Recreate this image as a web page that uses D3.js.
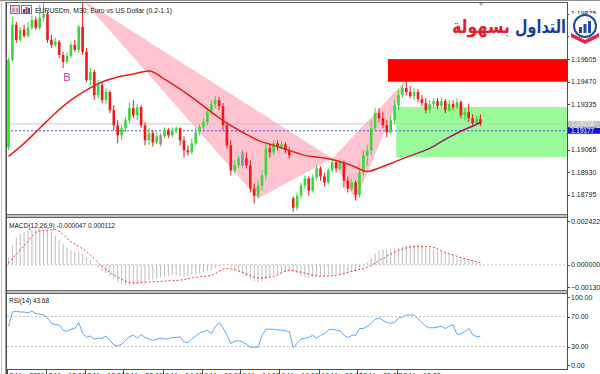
<!DOCTYPE html>
<html lang="en">
<head>
<meta charset="UTF-8">
<title>EURUSDm M30</title>
<script src="https://d3js.org/d3.v7.min.js"></script>
<style>
  body { margin: 0; background: #fff; }
  svg { display: block; font-family: "Liberation Sans", "DejaVu Sans", sans-serif; }
  .lbl { font-size: 7px; fill: #222; }
</style>
</head>
<body>
<svg width="600" height="374"></svg>
<script>
// ---- candles (M30, oldest first) ----
var opens = [1.19078,1.19600,1.19810,1.19720,1.19780,1.19744,1.19792,1.19840,1.19792,1.19852,
  1.19876,1.19720,1.19690,1.19708,1.19630,1.19588,1.19624,1.19690,1.19660,1.19798,
  1.19648,1.19480,1.19528,1.19390,1.19450,1.19360,1.19408,1.19300,1.19210,1.19150,
  1.19192,1.19240,1.19312,1.19270,1.19318,1.19210,1.19120,1.19162,1.19108,1.19144,
  1.19144,1.19180,1.19150,1.19180,1.19192,1.19120,1.19060,1.19048,1.19102,1.19168,
  1.19198,1.19228,1.19288,1.19336,1.19360,1.19324,1.19210,1.19090,1.18940,1.18970,
  1.19012,1.19012,1.18970,1.18832,1.18790,1.18850,1.18910,1.19072,1.19048,1.19102,
  1.19078,1.19096,1.19060,1.18772,1.18718,1.18790,1.18850,1.18892,1.18820,1.18898,
  1.18952,1.18904,1.18868,1.18940,1.18988,1.18952,1.18988,1.18880,1.18832,1.18868,
  1.18796,1.18928,1.19030,1.19060,1.19192,1.19282,1.19252,1.19210,1.19168,1.19240,
  1.19330,1.19390,1.19432,1.19408,1.19384,1.19408,1.19366,1.19342,1.19300,1.19336,
  1.19354,1.19324,1.19354,1.19300,1.19336,1.19318,1.19348,1.19270,1.19288,1.19252,
  1.19222,1.19246];
var highs = [1.19612,1.19858,1.19828,1.19798,1.19810,1.19828,1.19870,1.19858,1.19930,1.19942,
  1.19888,1.19750,1.19732,1.19720,1.19648,1.19642,1.19708,1.19720,1.19810,1.19960,
  1.19672,1.19552,1.19540,1.19480,1.19462,1.19432,1.19420,1.19330,1.19240,1.19210,
  1.19258,1.19348,1.19360,1.19336,1.19330,1.19228,1.19192,1.19180,1.19168,1.19162,
  1.19198,1.19192,1.19198,1.19204,1.19198,1.19144,1.19090,1.19132,1.19192,1.19216,
  1.19252,1.19312,1.19360,1.19384,1.19378,1.19342,1.19228,1.19120,1.19000,1.19030,
  1.19060,1.19048,1.19000,1.18862,1.18880,1.18940,1.19102,1.19102,1.19120,1.19120,
  1.19114,1.19108,1.19078,1.18784,1.18808,1.18868,1.18910,1.18904,1.18916,1.18970,
  1.18964,1.18928,1.18952,1.19012,1.19000,1.19006,1.19000,1.18904,1.18892,1.18880,
  1.18952,1.19060,1.19090,1.19240,1.19312,1.19312,1.19288,1.19240,1.19270,1.19360,
  1.19420,1.19450,1.19480,1.19444,1.19432,1.19426,1.19390,1.19372,1.19360,1.19372,
  1.19372,1.19378,1.19366,1.19360,1.19360,1.19372,1.19360,1.19312,1.19336,1.19276,
  1.19264,1.19276];
var lows = [1.19060,1.19588,1.19702,1.19708,1.19732,1.19732,1.19780,1.19780,1.19780,1.19828,
  1.19702,1.19672,1.19678,1.19612,1.19552,1.19576,1.19612,1.19648,1.19642,1.19630,
  1.19468,1.19450,1.19360,1.19372,1.19342,1.19336,1.19282,1.19180,1.19102,1.19120,
  1.19168,1.19222,1.19252,1.19240,1.19192,1.19090,1.19090,1.19084,1.19096,1.19084,
  1.19132,1.19132,1.19138,1.19162,1.19090,1.19018,1.19030,1.19036,1.19090,1.19150,
  1.19180,1.19210,1.19270,1.19312,1.19300,1.19180,1.19072,1.18910,1.18922,1.18952,
  1.18958,1.18952,1.18808,1.18742,1.18772,1.18820,1.18880,1.19018,1.19030,1.19060,
  1.19066,1.19042,1.19012,1.18694,1.18700,1.18772,1.18832,1.18790,1.18808,1.18880,
  1.18880,1.18844,1.18856,1.18928,1.18928,1.18940,1.18838,1.18808,1.18820,1.18760,
  1.18778,1.18910,1.18970,1.19030,1.19180,1.19228,1.19192,1.19138,1.19156,1.19216,
  1.19300,1.19372,1.19390,1.19372,1.19360,1.19348,1.19324,1.19282,1.19282,1.19318,
  1.19306,1.19312,1.19282,1.19288,1.19300,1.19306,1.19252,1.19240,1.19228,1.19204,
  1.19210,1.19204];
var closes = [1.19600,1.19810,1.19720,1.19780,1.19744,1.19792,1.19840,1.19792,1.19852,1.19876,
  1.19720,1.19690,1.19708,1.19630,1.19588,1.19624,1.19690,1.19660,1.19798,1.19648,
  1.19480,1.19528,1.19390,1.19450,1.19360,1.19408,1.19300,1.19210,1.19150,1.19192,
  1.19240,1.19312,1.19270,1.19318,1.19210,1.19120,1.19162,1.19108,1.19144,1.19144,
  1.19180,1.19150,1.19180,1.19192,1.19120,1.19060,1.19048,1.19102,1.19168,1.19198,
  1.19228,1.19288,1.19336,1.19360,1.19324,1.19210,1.19090,1.18940,1.18970,1.19012,
  1.19012,1.18970,1.18832,1.18790,1.18850,1.18910,1.19072,1.19048,1.19102,1.19078,
  1.19096,1.19060,1.19030,1.18718,1.18790,1.18850,1.18892,1.18820,1.18898,1.18952,
  1.18904,1.18868,1.18940,1.18988,1.18952,1.18988,1.18880,1.18832,1.18868,1.18796,
  1.18928,1.19030,1.19060,1.19192,1.19282,1.19252,1.19210,1.19168,1.19240,1.19330,
  1.19390,1.19432,1.19408,1.19384,1.19408,1.19366,1.19342,1.19300,1.19336,1.19354,
  1.19324,1.19354,1.19300,1.19336,1.19318,1.19348,1.19270,1.19288,1.19252,1.19222,
  1.19246,1.19218];

// moving average, read at every 4th bar
var maBars = [0,4,8,12,16,20,24,28,32,36,40,44,48,52,56,60,64,68,72,76,80,84,88,92,96,100,104,108,112,116,120,121];
var maValues = [1.19024,1.19102,1.19192,1.19282,1.19360,1.19420,1.19468,1.19498,1.19516,1.19534,
  1.19486,1.19426,1.19360,1.19288,1.19222,1.19168,1.19120,1.19090,1.19060,1.19030,
  1.19018,1.19000,1.18970,1.18934,1.18964,1.19000,1.19036,1.19072,1.19126,1.19174,
  1.19216,1.19228];

// MACD(12,26,9)
var macdMain = [0.00038,0.00099,0.00140,0.00161,0.00171,0.00179,0.00181,0.00184,0.00184,0.00181,
  0.00179,0.00171,0.00150,0.00130,0.00110,0.00089,0.00074,0.00069,0.00069,0.00059,
  0.00038,0.00023,0.00003,-0.00018,-0.00033,-0.00043,-0.00059,-0.00074,-0.00089,-0.00099,
  -0.00105,-0.00105,-0.00102,-0.00099,-0.00094,-0.00089,-0.00079,-0.00074,-0.00069,-0.00064,
  -0.00059,-0.00059,-0.00054,-0.00054,-0.00059,-0.00064,-0.00059,-0.00054,-0.00048,-0.00043,
  -0.00038,-0.00033,-0.00028,-0.00018,-0.00008,0.00003,0.00003,-0.00013,-0.00028,-0.00038,
  -0.00048,-0.00059,-0.00074,-0.00084,-0.00089,-0.00084,-0.00074,-0.00064,-0.00054,-0.00048,
  -0.00043,-0.00038,-0.00033,-0.00038,-0.00048,-0.00059,-0.00064,-0.00064,-0.00064,-0.00059,
  -0.00059,-0.00059,-0.00054,-0.00048,-0.00048,-0.00048,-0.00048,-0.00043,-0.00038,-0.00033,
  -0.00023,-0.00008,0.00013,0.00038,0.00059,0.00074,0.00079,0.00079,0.00079,0.00084,
  0.00089,0.00094,0.00099,0.00105,0.00105,0.00105,0.00099,0.00089,0.00084,0.00079,
  0.00074,0.00069,0.00064,0.00059,0.00048,0.00043,0.00038,0.00033,0.00028,0.00023,
  0.00013,-0.000047];
var signalBars = [0,4,8,12,16,20,24,28,32,36,40,44,48,52,56,60,64,68,72,76,80,84,88,92,96,100,104,108,112,116,121];
var signalValues = [0.00008,0.00099,0.00176,0.00181,0.00120,0.00069,-0.00008,-0.00064,-0.00094,-0.00089,
  -0.00084,-0.00079,-0.00064,-0.00054,-0.00018,-0.00038,-0.00069,-0.00059,-0.00028,-0.00043,
  -0.00059,-0.00054,-0.00033,-0.00013,0.00033,0.00074,0.00094,0.00094,0.00064,0.00038,
  0.000112];

// RSI(14)
var rsiValues = [57,76,77,76,76,75,77,74,73,72,
  68,61,59,59,52,50,53,54,62,48,
  42,44,40,41,41,44,38,32,31,33,
  38,43,45,41,46,42,40,38,40,41,
  40,40,42,42,43,36,35,40,44,48,
  50,52,47,56,62,55,45,34,37,38,
  36,33,29,29,29,45,53,53,53,52,
  52,51,50,29,34,40,41,42,45,41,
  45,47,52,53,52,51,45,42,45,45,
  54,54,57,61,66,68,65,62,61,62,
  68,69,72,72,72,67,62,57,55,55,
  56,57,54,57,59,46,47,50,54,46,
  43,43.68];

// harmonic pattern X A B C D
var patternBars = [19, 64, 83, 89, 102];
var patternPrices = [1.19960, 1.18772, 1.19012, 1.18760, 1.19480];

// zones (start bar, low, high)
var zoneStarts = [97.3, 99.4];
var zoneLows = [1.19470, 1.19020];
var zoneHighs = [1.19605, 1.19319];

var bidPrice = 1.19218, markPrice = 1.19177;

// axis ticks
var priceTicks = [1.18795, 1.18930, 1.19065, 1.19200, 1.19335, 1.19470, 1.19605, 1.19740, 1.19875];
var macdTicks = [-0.0013, 0, 0.002422];
var rsiTicks = [0, 30, 70, 100];
var rsiLevels = [30, 70];
var timeTickBars = [0,10,20,30,40,50,60,70,80,90,100];
var timeLabels = ["8 Mar 2021","8 Mar 13:00","8 Mar 18:00","8 Mar 23:00","9 Mar 04:00","9 Mar 09:00",
  "9 Mar 14:00","9 Mar 19:00","10 Mar 00:00","10 Mar 05:00","10 Mar 10:00"];

// ---- layout ----
var svg = d3.select("svg"),
    left = 7, right = 567,
    mainTop = 3, mainBottom = 214,
    macdTop = 218, macdBottom = 290,
    rsiTop = 294, rsiBottom = 369;

var x = d3.scaleLinear().domain([0, closes.length - 1]).range([8.5, 480.4]);
var yMain = d3.scaleLinear().domain([1.18680, 1.19940]).range([mainBottom, mainTop]);
var yMacd = d3.scaleLinear().domain([-0.0013, 0.002422]).range([macdBottom, macdTop]);
var yRsi = d3.scaleLinear().domain([0, 100]).range([rsiBottom, rsiTop]);

var defs = svg.append("defs");
[["clipMain", mainTop, mainBottom], ["clipMacd", macdTop, macdBottom], ["clipRsi", rsiTop, rsiBottom]].forEach(function(c) {
    defs.append("clipPath").attr("id", c[0]).append("rect")
        .attr("x", left).attr("y", c[1]).attr("width", right - left).attr("height", c[2] - c[1]);
});

svg.append("rect").attr("width", 600).attr("height", 374).attr("fill", "#fff");

// ---- main pane ----
var g = svg.append("g").attr("clip-path", "url(#clipMain)");

var pts = patternBars.map(function(b, i) { return [x(b), yMain(patternPrices[i])]; });
[[0,1,2],[2,3,4]].forEach(function(t) {
    g.append("path")
        .attr("d", "M" + t.map(function(k) { return pts[k].join(","); }).join("L") + "Z")
        .attr("fill", "#ffc4cf");
});

var zoneColors = ["#ff0000", "#98fb98"];
zoneStarts.forEach(function(s, i) {
    g.append("rect")
        .attr("x", x(s)).attr("y", yMain(zoneHighs[i]))
        .attr("width", right - x(s)).attr("height", yMain(zoneLows[i]) - yMain(zoneHighs[i]))
        .attr("fill", zoneColors[i]);
});

g.append("line").attr("x1", left).attr("x2", right)
    .attr("y1", yMain(bidPrice)).attr("y2", yMain(bidPrice))
    .attr("stroke", "#c8c8c8");
g.append("line").attr("x1", left).attr("x2", right)
    .attr("y1", yMain(markPrice)).attr("y2", yMain(markPrice))
    .attr("stroke", "#4a4ae8").attr("stroke-dasharray", "2,2");

closes.forEach(function(c, i) {
    var o = opens[i];
    var col = c > o ? "#38d838" : (c < o ? "#f01818" : "#909090");
    var cx = x(i);
    g.append("line").attr("x1", cx).attr("x2", cx)
        .attr("y1", yMain(highs[i])).attr("y2", yMain(lows[i]))
        .attr("stroke", col).attr("stroke-width", 1);
    var top = c === o ? yMain(highs[i]) + 2 : yMain(Math.max(o, c));
    var bot = c === o ? yMain(lows[i]) - 2 : yMain(Math.min(o, c));
    g.append("rect").attr("x", cx - 1.3).attr("width", 2.6)
        .attr("y", top).attr("height", Math.max(1, bot - top))
        .attr("fill", col);
});

var maLine = d3.line().curve(d3.curveMonotoneX)
    .x(function(d) { return x(d[0]); }).y(function(d) { return yMain(d[1]); });
var maPts = maBars.map(function(b, i) { return [b, maValues[i]]; });
g.append("path").datum(maPts.filter(function(d) { return d[0] <= 104; }))
    .attr("d", maLine).attr("fill", "none").attr("stroke", "#ec1c1c").attr("stroke-width", 1.5);
g.append("path").datum(maPts.filter(function(d) { return d[0] >= 104; }))
    .attr("d", maLine).attr("fill", "none").attr("stroke", "#a3186f").attr("stroke-width", 1.5);

g.append("text").attr("x", x(15)).attr("y", yMain(1.19500) + 4)
    .attr("text-anchor", "middle").attr("font-size", 11).attr("fill", "#c03ca8").text("B");

// chart shift marker
svg.append("path").attr("d", "M478,2L484,2L481,6Z").attr("fill", "#a8a8a8");

// title + icons
svg.append("rect").attr("x", 10.5).attr("y", 5.5).attr("width", 9).attr("height", 8)
    .attr("fill", "#cfdcf4").attr("stroke", "#5a78b8");
svg.append("rect").attr("x", 12).attr("y", 8).attr("width", 3).attr("height", 4).attr("fill", "#f08aa0");
svg.append("rect").attr("x", 16).attr("y", 8).attr("width", 2.5).attr("height", 4).attr("fill", "#f08aa0");
svg.append("rect").attr("x", 21.5).attr("y", 5.5).attr("width", 10).attr("height", 8)
    .attr("fill", "#fff").attr("stroke", "#5a78b8");
[[23, "#2a4ec8", 4], [25.5, "#d83030", 6], [28, "#2a4ec8", 5]].forEach(function(b) {
    svg.append("rect").attr("x", b[0]).attr("y", 13 - b[2]).attr("width", 2).attr("height", b[2]).attr("fill", b[1]);
});
svg.append("text").attr("class", "lbl").attr("x", 35).attr("y", 13)
    .attr("textLength", 137).attr("lengthAdjust", "spacingAndGlyphs")
    .text("EURUSDm, M30:  Euro vs US Dollar (0.2-1.1)");

// ---- MACD pane ----
var gm = svg.append("g").attr("clip-path", "url(#clipMacd)");
gm.append("line").attr("x1", left).attr("x2", right)
    .attr("y1", yMacd(0)).attr("y2", yMacd(0))
    .attr("stroke", "#c4c4c4").attr("stroke-dasharray", "2,2");
macdMain.forEach(function(v, i) {
    gm.append("line").attr("x1", x(i)).attr("x2", x(i))
        .attr("y1", yMacd(0)).attr("y2", yMacd(v))
        .attr("stroke", "#c2c2c2").attr("stroke-width", 1.1);
});
gm.append("path")
    .datum(signalBars.map(function(b, i) { return [b, signalValues[i]]; }))
    .attr("d", d3.line().curve(d3.curveMonotoneX)
        .x(function(d) { return x(d[0]); }).y(function(d) { return yMacd(d[1]); }))
    .attr("fill", "none").attr("stroke", "#f03c3c").attr("stroke-width", 1)
    .attr("stroke-dasharray", "2,2");
svg.append("text").attr("class", "lbl").attr("x", 9).attr("y", 228)
    .attr("textLength", 106).attr("lengthAdjust", "spacingAndGlyphs")
    .text("MACD(12,26,9) -0.000047 0.000112");

// ---- RSI pane ----
var gr = svg.append("g").attr("clip-path", "url(#clipRsi)");
rsiLevels.forEach(function(l) {
    gr.append("line").attr("x1", left).attr("x2", right)
        .attr("y1", yRsi(l)).attr("y2", yRsi(l))
        .attr("stroke", "#c4c4c4").attr("stroke-dasharray", "2,2");
});
gr.append("path").datum(rsiValues)
    .attr("d", d3.line().x(function(d, i) { return x(i); }).y(function(d) { return yRsi(d); }))
    .attr("fill", "none").attr("stroke", "#5aa8f8").attr("stroke-width", 1);
svg.append("text").attr("class", "lbl").attr("x", 9).attr("y", 303)
    .attr("textLength", 40).attr("lengthAdjust", "spacingAndGlyphs")
    .text("RSI(14) 43.68");

// ---- frames ----
svg.append("line").attr("x1", 1.5).attr("x2", 1.5).attr("y1", 0).attr("y2", 374).attr("stroke", "#c8c8c8");
svg.append("line").attr("x1", 0).attr("x2", 600).attr("y1", 0.5).attr("y2", 0.5).attr("stroke", "#909090");
svg.append("line").attr("x1", 5.5).attr("x2", 568).attr("y1", 2.5).attr("y2", 2.5).attr("stroke", "#606060");
svg.append("line").attr("x1", 5.5).attr("x2", 5.5).attr("y1", 2).attr("y2", 374).attr("stroke", "#a0a0a0");
svg.append("line").attr("x1", left - 0.5).attr("x2", left - 0.5).attr("y1", 2).attr("y2", 374).attr("stroke", "#505050");
[[mainBottom, macdTop], [macdBottom, rsiTop]].forEach(function(s) {
    svg.append("rect").attr("x", left).attr("y", s[0] + 0.5).attr("width", right - left).attr("height", s[1] - s[0] - 1)
        .attr("fill", "#c0c0c0");
    svg.append("line").attr("x1", left).attr("x2", right).attr("y1", s[0] + 0.5).attr("y2", s[0] + 0.5).attr("stroke", "#707070");
    svg.append("line").attr("x1", left).attr("x2", right).attr("y1", s[1] - 0.5).attr("y2", s[1] - 0.5).attr("stroke", "#606060");
});
svg.append("line").attr("x1", right + 0.5).attr("x2", right + 0.5).attr("y1", 2).attr("y2", rsiBottom + 1).attr("stroke", "#505050");
svg.append("line").attr("x1", left).attr("x2", right).attr("y1", rsiBottom + 0.5).attr("y2", rsiBottom + 0.5).attr("stroke", "#505050");

// ---- right scales ----
function scaleLabels(vals, y, fmt, lo, hi) {
    vals.forEach(function(v) {
        var yy = Math.max(lo, Math.min(hi, y(v)));
        svg.append("line").attr("x1", right).attr("x2", right + 3)
            .attr("y1", Math.round(yy) + 0.5).attr("y2", Math.round(yy) + 0.5).attr("stroke", "#505050");
        svg.append("text").attr("class", "lbl").attr("x", right + 4).attr("y", yy + 2.5).text(fmt(v));
    });
}
scaleLabels(priceTicks, yMain, d3.format(".5f"), mainTop, mainBottom);
scaleLabels(macdTicks, yMacd, d3.format(".6f"), macdTop + 3, macdBottom - 3);
scaleLabels(rsiTicks, yRsi, d3.format(".2f"), rsiTop + 3, rsiBottom - 4);

[[bidPrice, "#c0c0c0", "#f4f4f4"], [markPrice, "#1414cc", "#ffffff"]].forEach(function(b) {
    var yy = yMain(b[0]);
    svg.append("rect").attr("x", right + 1).attr("y", yy - 3).attr("width", 32).attr("height", 6).attr("fill", b[1]);
    svg.append("text").attr("x", right + 4).attr("y", yy + 2.2)
        .attr("font-size", 6.4).attr("fill", b[2]).text(d3.format(".5f")(b[0]));
});

// ---- time scale ----
timeTickBars.forEach(function(b, i) {
    var tx = Math.round(x(b) - 2) + 0.5;
    svg.append("line").attr("x1", tx).attr("x2", tx).attr("y1", rsiBottom).attr("y2", 374).attr("stroke", "#505050");
    svg.append("text").attr("class", "lbl").attr("x", tx + 2).attr("y", 378).text(timeLabels[i]);
});

// ---- logo ----
svg.append("text").attr("x", 566).attr("y", 33).attr("text-anchor", "end")
    .attr("font-family", "DejaVu Sans").attr("font-weight", "bold").attr("font-size", 19)
    .attr("textLength", 51).attr("lengthAdjust", "spacingAndGlyphs")
    .attr("fill", "#1c3f9e").text("التداول");
svg.append("text").attr("x", 510).attr("y", 33).attr("text-anchor", "end")
    .attr("font-family", "DejaVu Sans").attr("font-weight", "bold").attr("font-size", 19)
    .attr("textLength", 58).attr("lengthAdjust", "spacingAndGlyphs")
    .attr("fill", "#e3202c").text("بسهولة");
svg.append("rect").attr("x", 569).attr("y", 14).attr("width", 31).attr("height", 30).attr("fill", "#fff");
svg.append("path").attr("d", "M571,33L585,40L599,33L599,37L585,44L571,37Z").attr("fill", "#e0283a");
svg.append("circle").attr("cx", 585).attr("cy", 26).attr("r", 11)
    .attr("fill", "#fff").attr("stroke", "#1c4aa6").attr("stroke-width", 2);
[[579, 6], [583.5, 9], [588, 12]].forEach(function(b) {
    svg.append("rect").attr("x", b[0]).attr("y", 33 - b[1]).attr("width", 3).attr("height", b[1]).attr("fill", "#1c4aa6");
});
</script>
</body>
</html>
